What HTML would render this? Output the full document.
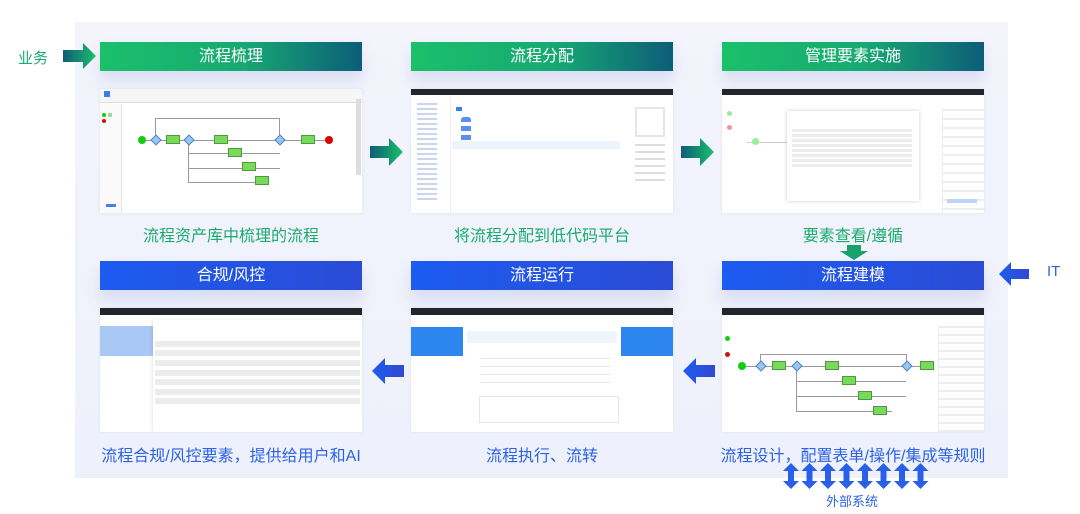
<!DOCTYPE html>
<html><head><meta charset="utf-8"><style>
*{margin:0;padding:0;box-sizing:border-box}
body{width:1080px;height:514px;background:#fff;position:relative;overflow:hidden;font-family:"Liberation Sans","Noto Sans CJK SC",sans-serif}
.a{position:absolute}
.bg{left:75px;top:22px;width:933px;height:456px;background:linear-gradient(180deg,#f3f4fc,#eef0fb)}
.hd{position:absolute;height:29px;color:#fff;font-size:16px;text-align:center;line-height:29px;box-shadow:0 10px 14px rgba(150,160,220,.25)}
.g{background:linear-gradient(90deg,#1bc06a 0%,#17a873 55%,#0d5d78 100%)}
.b{background:linear-gradient(90deg,#1c5cf0,#2a4bd6)}
.sh{position:absolute;width:262px;height:124px;background:#fff;overflow:hidden;box-shadow:0 0 3px rgba(0,0,0,.08)}
.cap{position:absolute;width:262px;text-align:center;font-size:16px}
.cg{color:#1aab6e}.cb{color:#2c63e6}
.bar{position:absolute;left:0;top:0;width:100%;height:6px;background:#23252c}
.ln{position:absolute;background:#9a9a9a}
.box{position:absolute;width:14px;height:9px;background:#79d95a;border:1px solid #4a9c3a}
.gr{position:absolute;width:8px;height:8px;background:#9cc4ee;transform:rotate(45deg);border:1px solid #4a86c8}
.row{position:absolute;height:6px;background:#ececec}
</style></head><body>
<div class="a bg"></div>

<div class="a" style="left:18px;top:47px;font-size:15px;color:#1aab6e">业务</div>
<svg class="a" style="left:63px;top:43px" width="34" height="26"><defs><linearGradient id="ga" x1="0" x2="1"><stop offset="0" stop-color="#0d5d78"/><stop offset="1" stop-color="#1bc06a"/></linearGradient><linearGradient id="ba" x1="0" x2="1"><stop offset="0" stop-color="#1c5cf0"/><stop offset="1" stop-color="#3348d0"/></linearGradient></defs><polygon points="0,7 20,7 20,0 33,13 20,26 20,19 0,19" fill="url(#ga)"/></svg>
<div class="a" style="left:1047px;top:263px;font-size:15px;color:#2c63e6">IT</div>
<svg class="a" style="left:999px;top:262px" width="30" height="24"><polygon points="0,12 12,0 12,7 30,7 30,17 12,17 12,24" fill="url(#ba)"/></svg>

<div class="hd g" style="left:100px;top:42px;width:262px">流程梳理</div>
<div class="hd g" style="left:411px;top:42px;width:262px">流程分配</div>
<div class="hd g" style="left:722px;top:42px;width:262px">管理要素实施</div>
<div class="hd b" style="left:100px;top:261px;width:262px">合规/风控</div>
<div class="hd b" style="left:411px;top:261px;width:262px">流程运行</div>
<div class="hd b" style="left:722px;top:261px;width:262px">流程建模</div>

<div class="sh" style="left:100px;top:89px">
 <div class="a" style="left:0;top:0;width:262px;height:14px;background:#f6f6f6;border-bottom:1px solid #ddd"></div>
 <div class="a" style="left:4px;top:2px;width:6px;height:6px;background:#3a7ef0"></div>
 <div class="a" style="left:0;top:15px;width:22px;height:109px;background:#fafafa;border-right:1px solid #e4e4e4"></div>
 <div class="a" style="left:2px;top:24px;width:4px;height:4px;border-radius:50%;background:#1c1"></div>
 <div class="a" style="left:8px;top:24px;width:4px;height:4px;background:#9d9"></div>
 <div class="a" style="left:2px;top:30px;width:4px;height:4px;border-radius:50%;background:#c11"></div>
 <div class="a" style="left:6px;top:115px;width:10px;height:3px;background:#4a7ef0"></div>
 <div class="a" style="left:256px;top:10px;width:5px;height:76px;background:#ddd"></div>
 <div class="ln" style="left:55px;top:29px;width:125px;height:1px"></div>
 <div class="ln" style="left:55px;top:29px;width:1px;height:22px"></div>
 <div class="ln" style="left:179px;top:29px;width:1px;height:22px"></div>
 <div class="ln" style="left:42px;top:51px;width:188px;height:1px"></div>
 <div class="ln" style="left:88px;top:51px;width:1px;height:42px"></div>
 <div class="ln" style="left:88px;top:64px;width:92px;height:1px"></div>
 <div class="ln" style="left:88px;top:79px;width:92px;height:1px"></div>
 <div class="ln" style="left:88px;top:93px;width:80px;height:1px"></div>
 <div class="a" style="left:38px;top:47px;width:8px;height:8px;border-radius:50%;background:#1c1"></div>
 <div class="gr" style="left:52px;top:47px"></div>
 <div class="box" style="left:66px;top:46px"></div>
 <div class="gr" style="left:85px;top:47px"></div>
 <div class="box" style="left:114px;top:46px"></div>
 <div class="box" style="left:128px;top:59px"></div>
 <div class="box" style="left:142px;top:73px"></div>
 <div class="box" style="left:155px;top:87px"></div>
 <div class="gr" style="left:176px;top:47px"></div>
 <div class="box" style="left:201px;top:46px"></div>
 <div class="a" style="left:225px;top:47px;width:8px;height:8px;border-radius:50%;background:#d00"></div>
</div>

<div class="sh" style="left:411px;top:89px">
 <div class="bar"></div>
 <div class="a" style="left:0;top:8px;width:40px;height:116px;border-right:1px solid #eee"></div>
 <div class="a" style="left:6px;top:14px;width:20px;height:100px;background:repeating-linear-gradient(180deg,#c9d6ee 0 2px,transparent 2px 5px)"></div>
 <div class="a" style="left:45px;top:18px;width:6px;height:4px;background:#3a7ef0"></div>
 <div class="a" style="left:50px;top:28px;width:10px;height:34px;background:repeating-linear-gradient(180deg,#5b8ef0 0 5px,transparent 5px 9px);border-radius:3px"></div>
 <div class="a" style="left:41px;top:52px;width:168px;height:8px;background:#eef4fd"></div>
 <div class="a" style="left:224px;top:18px;width:30px;height:30px;border:2px solid #e6e6e6"></div>
 <div class="a" style="left:224px;top:55px;width:30px;height:40px;background:repeating-linear-gradient(180deg,#ddd 0 2px,transparent 2px 7px)"></div>
</div>

<div class="sh" style="left:722px;top:89px">
 <div class="bar"></div>
 <div class="a" style="left:5px;top:22px;width:5px;height:5px;border-radius:50%;background:#9e9"></div>
 <div class="a" style="left:5px;top:36px;width:5px;height:5px;border-radius:50%;background:#e99"></div>
 <div class="a" style="left:25px;top:53px;width:140px;height:1px;background:#ccc"></div>
 <div class="a" style="left:30px;top:49px;width:7px;height:7px;border-radius:50%;background:#9e9"></div>
 <div class="a" style="left:220px;top:20px;width:42px;height:104px;border-left:1px solid #eee;background:repeating-linear-gradient(180deg,#eee 0 2px,transparent 2px 9px)"></div>
 <div class="a" style="left:225px;top:110px;width:30px;height:4px;background:#bcd3fb"></div>
 <div class="a" style="left:65px;top:22px;width:132px;height:90px;background:#fff;box-shadow:0 0 4px rgba(0,0,0,.2)"></div>
 <div class="a" style="left:70px;top:40px;width:120px;height:40px;background:repeating-linear-gradient(180deg,#ececec 0 3px,#fff 3px 5px)"></div>
</div>

<div class="sh" style="left:100px;top:308px">
 <div class="bar" style="height:7px"></div>
 <div class="a" style="left:0;top:18px;width:53px;height:30px;background:#a9c8f5"></div>
 <div class="a" style="left:53px;top:12px;width:209px;height:112px;background:#fff;box-shadow:-1px 0 3px rgba(0,0,0,.1)"></div>
 <div class="row" style="left:55px;top:33px;width:205px"></div>
 <div class="row" style="left:55px;top:42px;width:205px"></div>
 <div class="row" style="left:55px;top:52px;width:205px"></div>
 <div class="row" style="left:55px;top:62px;width:205px"></div>
 <div class="row" style="left:55px;top:71px;width:205px"></div>
 <div class="row" style="left:55px;top:81px;width:205px"></div>
 <div class="row" style="left:55px;top:90px;width:205px"></div>
</div>

<div class="sh" style="left:411px;top:308px">
 <div class="bar" style="height:7px"></div>
 <div class="a" style="left:0;top:19px;width:262px;height:29px;background:#2d86f0"></div>
 <div class="a" style="left:52px;top:18px;width:158px;height:106px;background:#fff"></div>
 <div class="a" style="left:56px;top:23px;width:150px;height:12px;background:#f0f4fb"></div>
 <div class="a" style="left:70px;top:50px;width:130px;height:32px;background:repeating-linear-gradient(180deg,#e8e8e8 0 1px,transparent 1px 8px)"></div>
 <div class="a" style="left:68px;top:88px;width:140px;height:27px;border:1px solid #e6e6e6"></div>
</div>

<div class="sh" style="left:722px;top:308px">
 <div class="bar" style="height:7px"></div>
 <div class="a" style="left:216px;top:18px;width:46px;height:106px;border-left:1px solid #eee;background:repeating-linear-gradient(180deg,#eee 0 2px,transparent 2px 8px)"></div>
 <div class="a" style="left:3px;top:28px;width:5px;height:5px;border-radius:50%;background:#1c1"></div>
 <div class="a" style="left:3px;top:44px;width:5px;height:5px;border-radius:50%;background:#c11"></div>
 <div class="ln" style="left:38px;top:46px;width:147px;height:1px"></div>
 <div class="ln" style="left:38px;top:46px;width:1px;height:12px"></div>
 <div class="ln" style="left:184px;top:46px;width:1px;height:12px"></div>
 <div class="ln" style="left:22px;top:58px;width:185px;height:1px"></div>
 <div class="ln" style="left:74px;top:58px;width:1px;height:45px"></div>
 <div class="ln" style="left:74px;top:73px;width:110px;height:1px"></div>
 <div class="ln" style="left:74px;top:88px;width:110px;height:1px"></div>
 <div class="ln" style="left:74px;top:103px;width:96px;height:1px"></div>
 <div class="a" style="left:16px;top:54px;width:8px;height:8px;border-radius:50%;background:#1c1"></div>
 <div class="gr" style="left:35px;top:54px"></div>
 <div class="box" style="left:50px;top:53px"></div>
 <div class="gr" style="left:71px;top:54px"></div>
 <div class="box" style="left:103px;top:53px"></div>
 <div class="box" style="left:120px;top:68px"></div>
 <div class="box" style="left:136px;top:83px"></div>
 <div class="box" style="left:151px;top:98px"></div>
 <div class="gr" style="left:181px;top:54px"></div>
 <div class="box" style="left:198px;top:53px"></div>
</div>

<div class="cap cg" style="left:100px;top:222px">流程资产库中梳理的流程</div>
<div class="cap cg" style="left:411px;top:222px">将流程分配到低代码平台</div>
<div class="cap cg" style="left:722px;top:222px">要素查看/遵循</div>
<div class="cap cb" style="left:80px;top:442px;width:302px">流程合规/风控要素，提供给用户和AI</div>
<div class="cap cb" style="left:411px;top:442px">流程执行、流转</div>
<div class="cap cb" style="left:702px;top:442px;width:302px">流程设计，配置表单/操作/集成等规则</div>

<svg class="a" style="left:370px;top:138px" width="34" height="28"><polygon points="0,8 19,8 19,0 33,14 19,28 19,20 0,20" fill="url(#ga)"/></svg>
<svg class="a" style="left:681px;top:138px" width="34" height="28"><polygon points="0,8 19,8 19,0 33,14 19,28 19,20 0,20" fill="url(#ga)"/></svg>
<svg class="a" style="left:372px;top:358px" width="32" height="26"><polygon points="0,13 13,0 13,7 32,7 32,19 13,19 13,26" fill="url(#ba)"/></svg>
<svg class="a" style="left:683px;top:358px" width="32" height="26"><polygon points="0,13 13,0 13,7 32,7 32,19 13,19 13,26" fill="url(#ba)"/></svg>
<svg class="a" style="left:840px;top:245px" width="28" height="15"><polygon points="7,0 21,0 21,6 28,6 14,15 0,6 7,6" fill="#1aa06a"/></svg>

<svg class="a" style="left:783px;top:463px" width="150" height="26">
 <g fill="#2a5fe8">
 <polygon id="da" points="8,0 16,8 11,8 11,18 16,18 8,26 0,18 5,18 5,8 0,8"/>
 <use href="#da" x="18.5"/><use href="#da" x="37"/><use href="#da" x="55.5"/><use href="#da" x="74"/><use href="#da" x="92.5"/><use href="#da" x="111"/><use href="#da" x="129.5"/>
 </g></svg>
<div class="a" style="left:826px;top:491px;font-size:13px;color:#2c63e6">外部系统</div>
</body></html>
